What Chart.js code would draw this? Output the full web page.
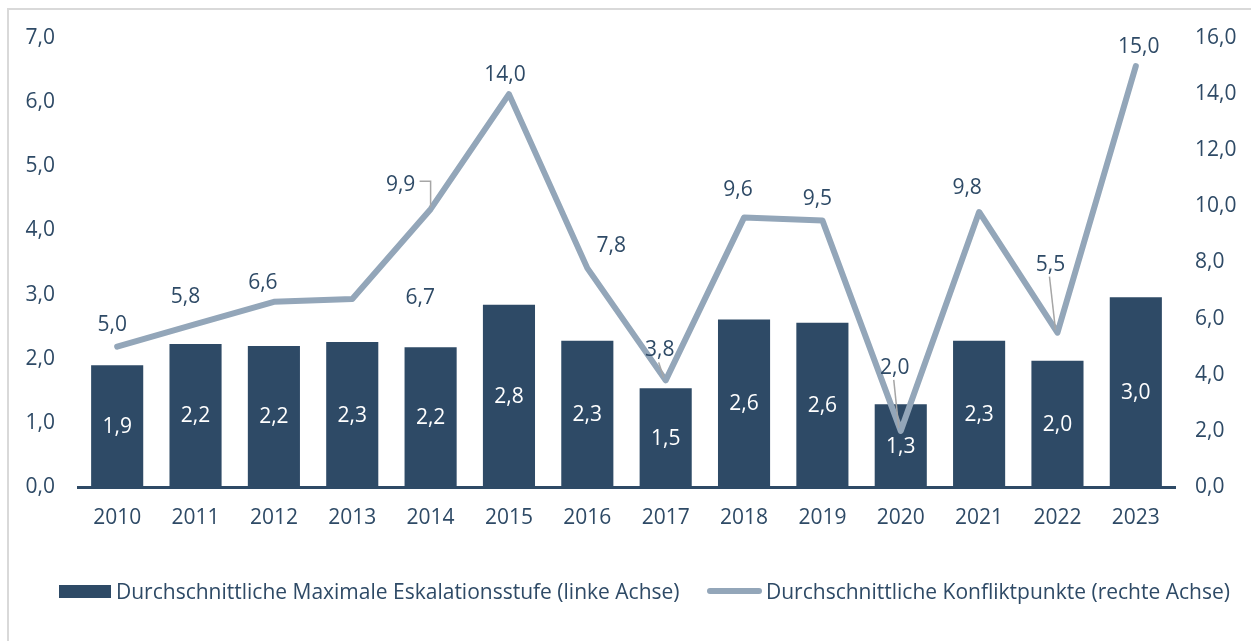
<!DOCTYPE html>
<html>
<head>
<meta charset="utf-8">
<script src="https://cdn.jsdelivr.net/npm/chart.js@4/dist/chart.umd.min.js"></script>
<style>
  html, body { margin: 0; padding: 0; background: #fff; }
  body { width: 1251px; height: 641px; position: relative; overflow: hidden; font-family: "Open Sans", sans-serif; }
  .frame { position: absolute; left: 7px; top: 8px; width: 1270px; height: 660px; border: 2px solid #d9d9d9; box-sizing: border-box; }
  #chartWrap { position: absolute; left: 0; top: 0; width: 1251px; height: 641px; }
  .legend { position: absolute; top: 577px; left: 0; height: 28px; color: #2e4a66; font-size: 21px; }
  .legend .item { position: absolute; top: 0; white-space: nowrap; line-height: 28px; }
  .legend .swatch { position: absolute; }
</style>
</head>
<body>
<div class="frame"></div>
<div id="chartWrap"><canvas id="chart" width="1251" height="641"></canvas></div>
<div class="legend">
  <div class="swatch" style="left:59px; top:8px; width:52px; height:13px; background:#2e4a66;"></div>
  <div class="item" style="left:116px;">Durchschnittliche Maximale Eskalationsstufe (linke Achse)</div>
  <div class="swatch" style="left:707px; top:11px; width:55px; height:6px; border-radius:3px; background:#93a6b9;"></div>
  <div class="item" style="left:766px;">Durchschnittliche Konfliktpunkte (rechte Achse)</div>
</div>
<script>
// ── Eskalation / Konfliktpunkte (combo chart) ──────────────

const years = ["2010", "2011", "2012", "2013", "2014", "2015", "2016",
               "2017", "2018", "2019", "2020", "2021", "2022", "2023"];
const escalation = [1.90, 2.23, 2.20, 2.26, 2.18, 2.84, 2.28,
                    1.54, 2.61, 2.56, 1.29, 2.28, 1.97, 2.96];
const conflictPoints = [5.0, 5.8, 6.6, 6.7, 9.9, 14.0, 7.8,
                        3.8, 9.6, 9.5, 2.0, 9.8, 5.5, 15.0];
const leftTicks = [0, 1, 2, 3, 4, 5, 6, 7];
const rightTicks = [0, 2, 4, 6, 8, 10, 12, 14, 16];

const barColor = "#2e4a66";
const lineColor = "#93a6b9";
const textColor = "#2e4a66";
const fontFamily = "'Open Sans', sans-serif";
const fontSize = 21;

// label placement for the line values, in px from the point
const labelOffsets = [
  [-5, -22], [-10, -27], [-11, -19], [68, -1], [-30, -24], [-4, -19], [24, -22],
  [-6, -30], [-6, -28], [-5, -21], [-6, -63], [-12, -24], [-7, -68], [3, -19],
];
// indices with leader lines ("elbow" = horizontal then vertical)
const leaders = { 4: "elbow", 7: "straight", 10: "straight", 12: "straight" };

const fmt = (v) => v.toFixed(1).replace(".", ",");

const valueLabels = {
  id: "valueLabels",
  afterDatasetsDraw(chart) {
    const ctx = chart.ctx;
    ctx.save();
    ctx.font = `${fontSize}px ${fontFamily}`;
    ctx.textAlign = "center";
    ctx.textBaseline = "middle";

    // bar values, white, centred in the bar
    const barMeta = chart.getDatasetMeta(1);
    barMeta.data.forEach((bar, i) => {
      ctx.fillStyle = "#ffffff";
      ctx.fillText(fmt(escalation[i]), bar.x, (bar.y + bar.base) / 2 + 1);
    });

    // line values with leader lines
    const lineMeta = chart.getDatasetMeta(0);
    lineMeta.data.forEach((pt, i) => {
      const [dx, dy] = labelOffsets[i];
      const lx = pt.x + dx;
      const ly = pt.y + dy;
      const kind = leaders[i];
      if (kind) {
        ctx.strokeStyle = "#a6a6a6";
        ctx.lineWidth = 1.5;
        ctx.beginPath();
        if (kind === "elbow") {
          ctx.moveTo(lx + 19, ly - 4);
          ctx.lineTo(pt.x, ly - 4);
          ctx.lineTo(pt.x, pt.y - 2);
        } else {
          ctx.moveTo(lx - 1, ly + 12);
          ctx.lineTo(pt.x - 2, pt.y - 3);
        }
        ctx.stroke();
      }
      ctx.fillStyle = textColor;
      ctx.fillText(fmt(conflictPoints[i]), lx, ly);
    });
    ctx.restore();
  },
};

Chart.defaults.font.family = fontFamily;
Chart.defaults.font.size = fontSize;
Chart.defaults.color = textColor;

new Chart(document.getElementById("chart"), {
  data: {
    labels: years,
    datasets: [
      {
        type: "line",
        label: "Durchschnittliche Konfliktpunkte (rechte Achse)",
        data: conflictPoints,
        yAxisID: "yRight",
        borderColor: lineColor,
        backgroundColor: lineColor,
        borderWidth: 6,
        borderCapStyle: "round",
        borderJoinStyle: "round",
        pointRadius: 0,
        tension: 0,
        order: 0,
      },
      {
        type: "bar",
        label: "Durchschnittliche Maximale Eskalationsstufe (linke Achse)",
        data: escalation,
        yAxisID: "yLeft",
        backgroundColor: barColor,
        borderWidth: 0,
        barPercentage: 0.665,
        categoryPercentage: 1,
        order: 1,
      },
    ],
  },
  options: {
    responsive: false,
    animation: false,
    layout: { padding: { top: 38, bottom: 94, left: 0, right: 0 } },
    plugins: {
      legend: { display: false },
      tooltip: { enabled: false },
    },
    scales: {
      x: {
        grid: { display: false, drawTicks: false },
        border: { display: true, color: barColor, width: 3 },
        ticks: { padding: 18, color: textColor },
        afterFit: (s) => { s.height = 60; },
      },
      yLeft: {
        position: "left",
        min: 0,
        max: 7,
        afterBuildTicks: (s) => { s.ticks = leftTicks.map((v) => ({ value: v })); },
        grid: { display: false, drawTicks: false },
        border: { display: false },
        ticks: { padding: 23, callback: (v) => fmt(v) },
        afterFit: (s) => { s.width = 78; },
      },
      yRight: {
        position: "right",
        min: 0,
        max: 16,
        afterBuildTicks: (s) => { s.ticks = rightTicks.map((v) => ({ value: v })); },
        grid: { display: false, drawTicks: false },
        border: { display: false },
        ticks: { padding: 20, callback: (v) => fmt(v) },
        afterFit: (s) => { s.width = 76; },
      },
    },
  },
  plugins: [valueLabels],
});
</script>
</body>
</html>
